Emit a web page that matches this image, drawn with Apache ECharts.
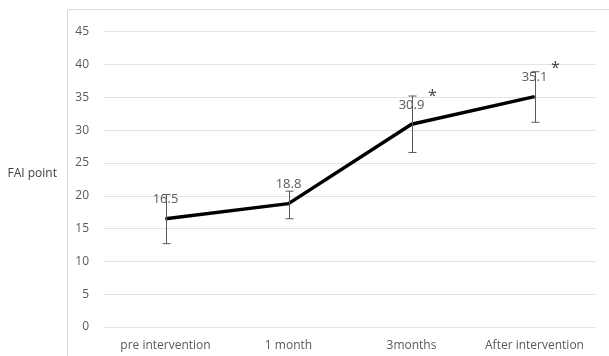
<!DOCTYPE html>
<html>
<head>
<meta charset="utf-8">
<script src="https://cdn.jsdelivr.net/npm/echarts@6/dist/echarts.min.js"></script>
<style>
  html, body { margin: 0; padding: 0; background: #fff; }
  #chart { width: 609px; height: 356px; }
</style>
</head>
<body>
<div id="chart"></div>
<script>
const categories = ["pre intervention", "1 month", "3months", "After intervention"];
const means = [16.5, 18.8, 30.9, 35.1];
const errLow = [12.7, 16.5, 26.6, 31.2];
const errHigh = [20.2, 20.7, 35.2, 38.9];
const starred = ["3months", "After intervention"];

const font = "'Open Sans', 'Noto Sans', sans-serif";
const gray = "#595959";

const chart = echarts.init(document.getElementById("chart"));

chart.setOption({
  animation: false,
  textStyle: { fontFamily: font },
  graphic: [
    {
      type: "rect",
      shape: { x: 67.5, y: 9.5, width: 600, height: 400 },
      style: { fill: "none", stroke: "#d9d9d9", lineWidth: 1 },
      silent: true,
    },
  ],
  grid: { left: 104, right: 13, top: 31.7, bottom: 29 },
  xAxis: {
    type: "category",
    data: categories,
    axisLine: { show: false },
    axisTick: { show: false },
    axisLabel: { color: gray, fontSize: 12, margin: 13, interval: 0 },
  },
  yAxis: {
    type: "value",
    min: 0,
    max: 45,
    interval: 5,
    name: "FAI point",
    nameLocation: "middle",
    nameRotate: 0,
    nameGap: 47,
    nameTextStyle: { color: "#404040", fontSize: 12, verticalAlign: "bottom" },
    axisLabel: { color: gray, fontSize: 12, margin: 15 },
    splitLine: { lineStyle: { color: "#e3e3e3", width: 1 } },
  },
  series: [
    {
      type: "line",
      data: means,
      symbol: "circle",
      symbolSize: 1,
      showSymbol: true,
      itemStyle: { color: "#000" },
      lineStyle: { color: "#000", width: 3.5 },
      label: {
        show: true,
        position: "top",
        distance: 12,
        color: gray,
        fontSize: 13,
      },
      labelLayout: { hideOverlap: false },
      markPoint: {
        symbol: "circle",
        symbolSize: 1,
        itemStyle: { color: "rgba(0,0,0,0)" },
        label: {
          show: true,
          position: "inside",
          formatter: "*",
          color: "#404040",
          fontSize: 16,
          offset: [21, -28],
        },
        data: starred.map((c) => ({
          coord: [c, means[categories.indexOf(c)]],
        })),
      },
      z: 3,
    },
    {
      type: "custom",
      data: categories.map((c, i) => [i, errLow[i], errHigh[i]]),
      renderItem: function (params, api) {
        const lo = api.coord([api.value(0), api.value(1)]);
        const hi = api.coord([api.value(0), api.value(2)]);
        const x = Math.round(lo[0]) + 0.5;
        const half = 4;
        const style = { stroke: gray, lineWidth: 1 };
        return {
          type: "group",
          children: [
            { type: "line", shape: { x1: x, y1: hi[1], x2: x, y2: lo[1] }, style },
            { type: "line", shape: { x1: x - half, y1: hi[1], x2: x + half, y2: hi[1] }, style },
            { type: "line", shape: { x1: x - half, y1: lo[1], x2: x + half, y2: lo[1] }, style },
          ],
        };
      },
      z: 4,
    },
  ],
});
</script>
</body>
</html>
